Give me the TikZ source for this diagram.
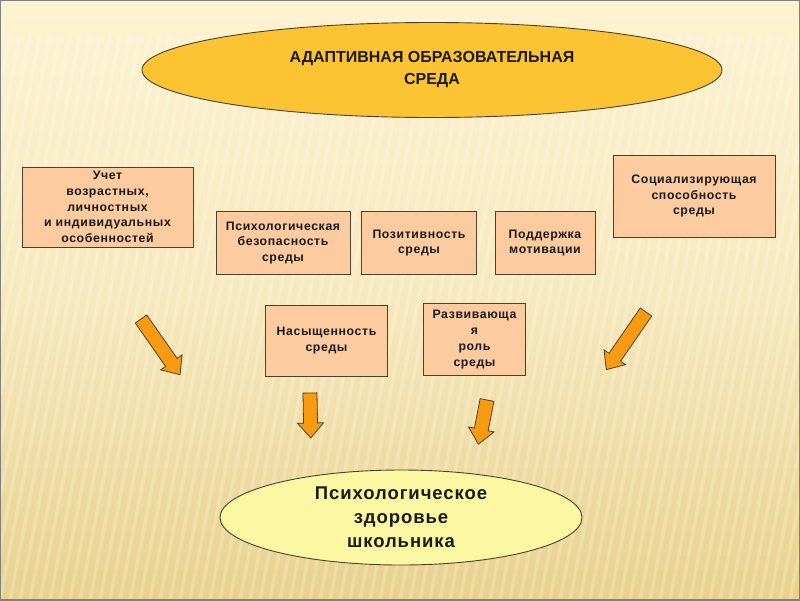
\documentclass[tikz,border=0pt]{standalone}
\usepackage{fontspec}
\setmainfont{Liberation Sans}
\newfontfamily\lsfont{Liberation Sans}[LetterSpace=5]
\usetikzlibrary{shapes.geometric}
\definecolor{bgtop}{HTML}{FDF3D2}
\definecolor{bgbot}{HTML}{E8D18C}
\definecolor{topell}{HTML}{FCC432}
\definecolor{botell}{HTML}{FBF7A2}
\definecolor{boxfill}{HTML}{FCCB9F}
\definecolor{arrfill}{HTML}{F99B10}
\definecolor{edge}{HTML}{4A4030}
\definecolor{txt}{HTML}{1A1A1A}
\tikzset{
  boxnode/.style={draw=edge, line width=0.8pt, fill=boxfill, rectangle, inner sep=0pt,
    align=center, text=txt, font=\lsfont\bfseries\fontsize{12.3}{15.8}\selectfont},
  ellnode/.style={draw=edge, line width=0.9pt, ellipse, inner sep=0pt, align=center, text=txt},
  arrowbody/.style={draw=edge, line width=0.8pt, fill=arrfill, line join=miter}
}
\newcommand\blockarrow[4]{% tail x, tail y, angle, length
  \begin{scope}[shift={(#1,#2)}, rotate=#3]
    \draw[arrowbody] (0,-7) -- ({#4-15},-7) -- ({#4-15},-13) -- (#4,0)
      -- ({#4-15},13) -- ({#4-15},7) -- (0,7) -- cycle;
  \end{scope}}
\begin{document}
\begin{tikzpicture}[x=1pt,y=-1pt]
\useasboundingbox (0,0) rectangle (800,600);
% background
\shade[top color=bgtop, bottom color=bgbot, middle color=bgtop!70!bgbot] (0,0) rectangle (800,600);
\begin{scope}
  \clip (0,35) rectangle (800,600);
  \foreach \x in {-200,-190,...,800} {
    \draw[white, opacity=0.22, line width=3.5pt] (\x,600) -- (\x+110,35);
  }
\end{scope}
\draw[gray, line width=2pt] (0,0) rectangle (800,600);

% top ellipse
\node[ellnode, fill=topell, minimum width=580pt, minimum height=95pt,
  font=\bfseries\fontsize{16}{22}\selectfont] (top) at (432,70)
  {АДАПТИВНАЯ ОБРАЗОВАТЕЛЬНАЯ\\СРЕДА};

% boxes
\node[boxnode, minimum width=171pt, minimum height=80pt] (b1) at (107.5,207)
  {Учет\\возрастных,\\личностных\\и индивидуальных\\особенностей};
\node[boxnode, minimum width=134pt, minimum height=63pt] (b2) at (283,243)
  {Психологическая\\безопасность\\среды};
\node[boxnode, minimum width=115pt, minimum height=63pt] (b3) at (419,243)
  {Позитивность\\среды};
\node[boxnode, minimum width=100pt, minimum height=63pt] (b4) at (545,243)
  {Поддержка\\мотивации};
\node[boxnode, minimum width=162pt, minimum height=82pt] (b5) at (694,196)
  {Социализирующая\\способность\\среды};
\node[boxnode, minimum width=122pt, minimum height=71pt] (b6) at (326.5,340.5)
  {Насыщенность\\среды};
\node[boxnode, minimum width=102pt, minimum height=72pt] (b7) at (474.5,339.5)
  {Развивающа\\я\\роль\\среды};

% arrows
\blockarrow{141}{319}{-55}{68}
\blockarrow{646}{312}{-124.6}{70}
\blockarrow{310}{393}{-89}{45}
\blockarrow{487}{400}{-101}{45}

% bottom ellipse
\node[ellnode, fill=botell, minimum width=362pt, minimum height=95pt,
  font=\lsfont\bfseries\fontsize{18.5}{24}\selectfont] (bot) at (401,517.5)
  {Психологическое\\здоровье\\школьника};
\end{tikzpicture}
\end{document}
